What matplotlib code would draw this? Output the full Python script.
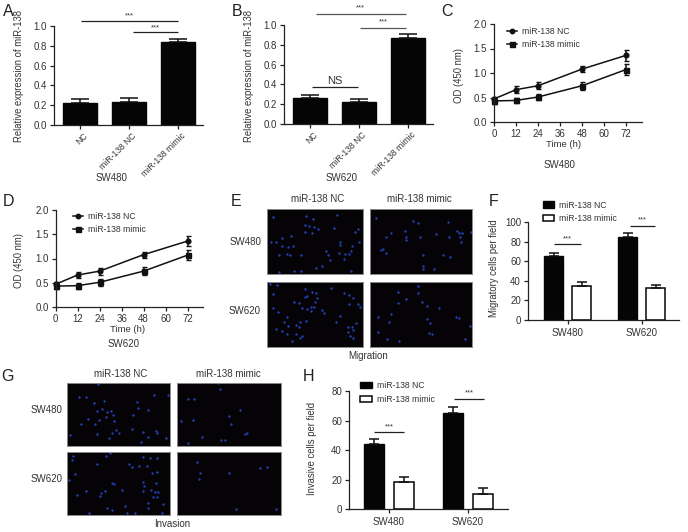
import matplotlib
matplotlib.use("Agg")
import matplotlib.pyplot as plt
from matplotlib.lines import Line2D
from matplotlib.transforms import ScaledTranslation

plt.rcParams['font.family'] = ['Liberation Sans', 'DejaVu Sans']
W, H = 688, 532
TXT = '#333333'
AXC = '#222222'

bar_labels = ['NC', 'miR-138 NC', 'miR-138 mimic']
a_vals = [0.225, 0.235, 0.84]
a_errs = [0.034, 0.041, 0.025]
b_vals = [0.26, 0.22, 0.865]
b_errs = [0.03, 0.033, 0.04]

times = [0, 12, 24, 48, 72]
time_ticks = [0, 12, 24, 36, 48, 60, 72]
nc_od = [0.47, 0.66, 0.74, 1.08, 1.36]
nc_err = [0.05, 0.07, 0.07, 0.06, 0.11]
mimic_od = [0.43, 0.44, 0.51, 0.74, 1.07]
mimic_err = [0.06, 0.06, 0.07, 0.08, 0.11]

groups = ['SW480', 'SW620']
f_nc = [65, 85]
f_nc_err = [3, 3.5]
f_mimic = [35, 32.5]
f_mimic_err = [3.5, 3]
h_nc = [44, 65.5]
h_nc_err = [3.5, 3.5]
h_mimic = [18.5, 10.5]
h_mimic_err = [3, 3.5]

# cell positions (crop pixels)
e_480_nc = [(143,80),(243,78),(265,87),(240,105),(253,108),(268,112),(278,117),(240,127),(260,129),(327,113),(400,118),(390,125),(197,138),(172,143),(137,155),(152,157),(345,155),(402,155),(172,168),(190,172),(203,170),(302,184),(345,167),(380,170),(343,189),(360,192),(372,192),(378,185),(163,196),(185,192),(194,195),(228,195),(308,195),(314,210),(357,208),(291,230),(274,234),(207,244),(228,244),(162,248),(378,244),(335,75)]
e_480_mi = [(455,85),(565,92),(580,98),(668,95),(500,128),(541,124),(485,140),(543,140),(544,150),(585,140),(632,132),(695,122),(703,128),(711,130),(705,142),(673,140),(708,155),(475,178),(470,182),(483,190),(595,195),(654,195),(676,203),(594,230),(593,237),(627,237),(739,125)]
e_620_nc = [(135,282),(155,284),(145,312),(240,298),(245,318),(260,305),(272,310),(240,322),(275,325),(318,295),(358,308),(372,315),(385,325),(208,335),(222,340),(143,355),(158,365),(232,355),(247,358),(258,350),(268,350),(258,362),(270,337),(373,342),(398,342),(405,352),(292,360),(296,368),(345,378),(332,396),(185,380),(243,393),(225,397),(223,412),(212,405),(178,395),(190,407),(153,418),(172,422),(185,432),(213,432),(232,438),(225,445),(380,410),(392,398),(370,410),(385,420),(370,425),(385,445),(200,452),(375,438)]
e_620_mi = [(580,288),(520,305),(578,310),(520,338),(545,328),(592,337),(605,348),(642,355),(605,388),(615,398),(692,381),(701,384),(460,382),(493,396),(735,408),(612,430),(620,433),(460,425),(487,446),(522,452),(720,446),(500,373)]
g_480_nc = [(293,72),(258,110),(238,112),(282,130),(313,123),(307,147),(290,153),(322,155),(332,152),(340,165),(318,172),(341,183),(263,178),(298,180),(284,192),(243,192),(412,125),(413,145),(445,150),(400,165),(463,105),(505,105),(396,207),(348,210),(336,220),(357,218),(292,222),(326,233),(430,215),(468,212),(472,218),(445,230),(423,245),(497,234),(211,226)]
g_480_mi = [(655,70),(660,88),(563,118),(583,116),(720,151),(686,167),(580,180),(692,191),(542,184),(735,222),(742,219),(607,232),(662,240),(675,240),(563,250)]
g_620_nc = [(219,287),(217,300),(318,288),(330,280),(290,313),(388,312),(395,322),(418,318),(440,317),(428,290),(450,295),(472,295),(455,340),(470,335),(225,342),(207,360),(335,370),(343,373),(365,390),(257,392),(231,404),(302,398),(315,392),(300,408),(430,366),(432,378),(430,393),(468,370),(452,390),(465,395),(475,395),(460,412),(470,410),(322,445),(376,437),(443,430),(489,432),(268,460),(335,450),(380,458),(406,458),(445,445),(487,460)]
g_620_mi = [(592,307),(600,340),(598,358),(686,339),(780,325),(800,322),(708,448),(828,448)]

fig = plt.figure(figsize=(W/100, H/100), dpi=100)

def pax(x0, y0, x1, y1):
    return fig.add_axes([x0/W, 1-y1/H, (x1-x0)/W, (y1-y0)/H])

over = fig.add_axes([0, 0, 1, 1], zorder=10)
over.set_xlim(0, W); over.set_ylim(H, 0); over.axis('off'); over.patch.set_alpha(0)

def txt(x, y, s, size=7.0, ha='center', color=TXT, **kw):
    over.text(x, y, s, fontsize=size, ha=ha, va='center', color=color, **kw)

def sig(x0, x1, y, label='***', ty=None, size=5.5, color=AXC):
    over.plot([x0, x1], [y, y], color=color, lw=0.9, solid_capstyle='butt')
    txt((x0+x1)/2, y-5 if ty is None else ty, label, size=size)

def style(ax, ticksize=7):
    for s in ('top', 'right'):
        ax.spines[s].set_visible(False)
    for s in ('left', 'bottom'):
        ax.spines[s].set_linewidth(0.9); ax.spines[s].set_color(AXC)
    ax.tick_params(length=3, width=0.9, color=AXC, labelcolor=TXT, labelsize=ticksize, pad=2)
    ax.patch.set_alpha(0)

def ylab(ax, s, x, y, size=6.85):
    ax.set_ylabel(s, fontsize=size, color=TXT)
    b = ax.get_position()
    ax.yaxis.set_label_coords((x/W-b.x0)/b.width, ((1-y/H)-b.y0)/b.height)

def xlab(ax, s, x, y, size=6.8):
    ax.set_xlabel(s, fontsize=size, color=TXT, va='center')
    b = ax.get_position()
    ax.xaxis.set_label_coords((x/W-b.x0)/b.width, ((1-y/H)-b.y0)/b.height)

def bars3(box, vals, errs, xlim, ly):
    ax = pax(*box)
    pos = range(len(vals))
    ax.bar(pos, vals, width=0.694, color='#050505', edgecolor='#050505')
    ax.errorbar(pos, vals, yerr=[[0]*len(vals), errs], fmt='none', ecolor='#111111', elinewidth=1.1, capsize=6.3, capthick=1.1)
    ax.set_xlim(*xlim); ax.set_ylim(0, 1)
    ax.set_xticks(list(pos)); ax.set_xticklabels(bar_labels, rotation=45, ha='right', rotation_mode='anchor')
    ax.set_yticks([0, .2, .4, .6, .8, 1.0]); ax.set_yticklabels(['0.0', '0.2', '0.4', '0.6', '0.8', '1.0'])
    style(ax)
    ax.tick_params(axis='x', labelsize=6.2, pad=1.5)
    shift = ScaledTranslation(3/100, 0, fig.dpi_scale_trans)
    for t in ax.get_xticklabels():
        t.set_transform(t.get_transform() + shift)
    ylab(ax, 'Relative expression of miR-138', ly, 76)
    return ax

a = bars3((54, 26, 203, 125), a_vals, a_errs, (-0.524, 2.516), 23.7)
b = bars3((284, 25, 433, 124), b_vals, b_errs, (-0.53, 2.51), 253.7)
txt(111.7, 177.7, 'SW480'); txt(341.7, 177.7, 'SW620')
sig(81, 177.7, 21.3, ty=16); sig(133, 177.7, 32.3, ty=28)
sig(315.7, 406, 13.7, ty=8, color='#555555'); sig(360, 406, 27.7, ty=22, color='#555555')
sig(311.7, 358.3, 87.3, label='NS', ty=80.7, size=8)

def lines(box, xr, leg_xy):
    ax = pax(*box)
    for y, e, m, ms in [(nc_od, nc_err, 'o', 3.4), (mimic_od, mimic_err, 's', 3.6)]:
        ax.errorbar(times, y, yerr=e, color='#111111', marker=m, ms=ms, lw=1.1, elinewidth=1.1, capsize=1.8, capthick=1, clip_on=False)
    ax.set_xlim(0, xr); ax.set_ylim(0, 2)
    ax.set_xticks(time_ticks); ax.set_yticks([0, .5, 1, 1.5, 2]); ax.set_yticklabels(['0.0', '0.5', '1.0', '1.5', '2.0'])
    style(ax)
    h = [Line2D([], [], color='#111111', marker='o', ms=3.2, lw=1.1), Line2D([], [], color='#111111', marker='s', ms=3.6, lw=1.1)]
    ax.legend(h, ['miR-138 NC', 'miR-138 mimic'], frameon=False, fontsize=6.2, labelcolor=TXT, loc='upper left',
              bbox_to_anchor=(leg_xy[0]/W, 1-leg_xy[1]/H), bbox_transform=fig.transFigure, borderpad=0, borderaxespad=0,
              handlelength=1.2, handletextpad=0.5, labelspacing=0.42)
    return ax

c = lines((494, 24, 642, 122), 80.7, (507, 27))
ylab(c, 'OD (450 nm)', 463.7, 76); xlab(c, 'Time (h)', 564, 144.7)
d = lines((55.7, 210, 202.7, 307), 80.2, (73, 212))
ylab(d, 'OD (450 nm)', 23.7, 260.7); xlab(d, 'Time (h)', 128, 329)
txt(559, 165, 'SW480'); txt(123.7, 344, 'SW620')

def micro(box, crop, pts):
    ax = pax(*box)
    ax.set_facecolor('#060307')
    ax.scatter([p[0] for p in pts], [p[1] for p in pts], s=3, color='#2140b8', linewidths=0, clip_on=True)
    ax.set_xlim(crop[0], crop[1]); ax.set_ylim(crop[3], crop[2])
    ax.set_xticks([]); ax.set_yticks([])
    for s in ax.spines.values():
        s.set_color('#8a8a8a'); s.set_linewidth(0.7)

micro((266.7, 209, 362.7, 274), (125, 413, 57, 253), e_480_nc)
micro((370, 209, 471.7, 274), (436, 740, 57, 253), e_480_mi)
micro((266.7, 281.7, 362.7, 346.7), (125, 413, 275, 470), e_620_nc)
micro((370, 281.7, 471.7, 346.7), (436, 740, 275, 470), e_620_mi)
micro((66.7, 382.7, 170, 446.3), (200, 510, 68, 259), g_480_nc)
micro((177.3, 382.7, 280.7, 446.3), (532, 842, 68, 259), g_480_mi)
micro((66.7, 452.3, 170, 515.3), (200, 510, 277, 466), g_620_nc)
micro((177.3, 452.3, 280.7, 515.3), (532, 842, 277, 466), g_620_mi)
txt(317.3, 199.3, 'miR-138 NC'); txt(419.3, 199.3, 'miR-138 mimic')
txt(261, 241.7, 'SW480', ha='right'); txt(261, 310.7, 'SW620', ha='right')
txt(367.7, 355.7, 'Migration')
txt(121, 373.7, 'miR-138 NC'); txt(228.7, 373.7, 'miR-138 mimic')
txt(62.3, 410, 'SW480', ha='right'); txt(62.3, 479.3, 'SW620', ha='right')
txt(171.7, 523.7, 'Invasion')

def grouped(box, nc, nc_e, mi, mi_e, xlim, ylim, yticks, off, wid, leg_xy, hl):
    ax = pax(*box)
    x1 = [i-off for i in range(2)]; x2 = [i+off for i in range(2)]
    ax.bar(x1, nc, width=wid, color='#050505', edgecolor='#050505', label='miR-138 NC')
    ax.bar(x2, mi, width=wid, color='white', edgecolor='#050505', linewidth=1.1, label='miR-138 mimic')
    ax.errorbar(x1, nc, yerr=[[0, 0], nc_e], fmt='none', ecolor='#111111', elinewidth=1.1, capsize=3.6, capthick=1.1)
    ax.errorbar(x2, mi, yerr=[[0, 0], mi_e], fmt='none', ecolor='#111111', elinewidth=1.1, capsize=3.6, capthick=1.1)
    ax.set_xlim(*xlim); ax.set_ylim(*ylim)
    ax.set_xticks([0, 1]); ax.set_xticklabels(groups); ax.set_yticks(yticks)
    style(ax)
    ax.tick_params(axis='x', pad=3)
    ax.legend(frameon=False, fontsize=6.2, labelcolor=TXT, loc='upper left', bbox_to_anchor=(leg_xy[0]/W, 1-leg_xy[1]/H),
              bbox_transform=fig.transFigure, borderpad=0, borderaxespad=0, handlelength=hl, handleheight=0.75,
              handletextpad=0.5, labelspacing=0.55)
    return ax

f = grouped((528, 222, 679, 320), f_nc, f_nc_err, f_mimic, f_mimic_err, (-0.536, 1.504), (0, 100), [0, 20, 40, 60, 80, 100], 0.188, 0.257, (543.3, 200.5), 1.3)
ylab(f, 'Migratory cells per field', 499, 268)
h = grouped((349, 391.3, 508, 509), h_nc, h_nc_err, h_mimic, h_mimic_err, (-0.505, 1.508), (0, 80), [0, 20, 40, 60, 80], 0.189, 0.26, (360, 381), 1.43)
ylab(h, 'Invasive cells per field', 316.7, 448.3)
sig(554.3, 580.7, 244.3, ty=239); sig(630, 655, 225.7, ty=220)
sig(374, 404, 432.3, ty=426.7); sig(454, 484.3, 399, ty=393)

for s, x, y in [('A', 8, 12), ('B', 236.7, 12), ('C', 447, 12), ('D', 8, 201.7), ('E', 235.7, 202), ('F', 494, 202), ('G', 7.3, 376.7), ('H', 308, 376.7)]:
    txt(x, y, s, size=11.5, color='#222222')

fig.savefig('out.png', dpi=100)
